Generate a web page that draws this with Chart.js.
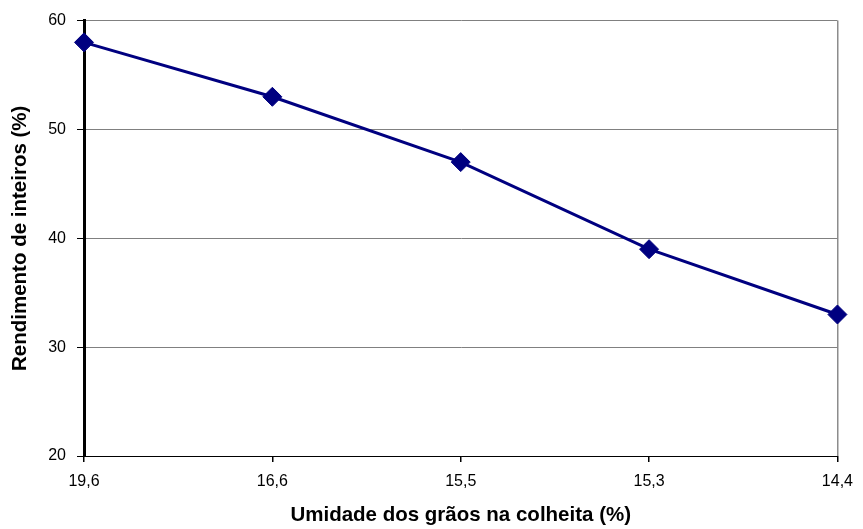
<!DOCTYPE html>
<html>
<head>
<meta charset="utf-8">
<script src="https://cdn.jsdelivr.net/npm/chart.js@4/dist/chart.umd.min.js"></script>
<style>
  html, body { margin: 0; padding: 0; background: #fff; }
  canvas { display: block; }
</style>
</head>
<body>
<canvas id="grafico" width="863" height="529"></canvas>
<script>
// Umidade na colheita x rendimento de grãos inteiros
const umidade = ['19,6', '16,6', '15,5', '15,3', '14,4'];
const rendimento = [58, 53, 47, 39, 33];
const escalaY = { min: 20, max: 60, passo: 10 };

const fonte = 'Arial, "Liberation Sans", sans-serif';

const chart = new Chart(document.getElementById('grafico'), {
    type: 'line',
    data: {
        labels: umidade,
        datasets: [{
            data: rendimento,
            borderColor: '#000080',
            backgroundColor: '#000080',
            borderWidth: 3,
            pointStyle: 'rectRot',
            pointRadius: 9.5,
            pointBorderWidth: 1,
            pointBackgroundColor: '#000080',
            pointBorderColor: '#000080',
            tension: 0,
            clip: false
        }]
    },
    options: {
        responsive: false,
        animation: false,
        layout: { padding: { top: 20, right: 22, bottom: 0, left: 0 } },
        plugins: {
            legend: { display: false },
            tooltip: { enabled: false }
        },
        scales: {
            x: {
                offset: false,
                grid: {
                    // só a borda direita da área do gráfico
                    color: (ctx) => ctx.index === umidade.length - 1 ? '#8c8c8c' : 'rgba(0,0,0,0)',
                    lineWidth: 1.5,
                    tickColor: '#000',
                    tickLength: 6
                },
                border: { color: '#000', width: 1 },
                ticks: {
                    color: '#000',
                    font: { family: fonte, size: 16 },
                    padding: 10,
                    maxRotation: 0
                },
                title: {
                    display: true,
                    text: 'Umidade dos grãos na colheita (%)',
                    color: '#000',
                    font: { family: fonte, size: 20.5, weight: 'bold' },
                    padding: { top: 0, bottom: 1 }
                },
                afterFit: (scale) => { scale.height = 73; }
            },
            y: {
                min: escalaY.min,
                max: escalaY.max,
                grid: {
                    color: (ctx) => ctx.tick && ctx.tick.value === escalaY.min ? '#000' : '#808080',
                    lineWidth: 1,
                    tickColor: '#000',
                    tickLength: 7
                },
                border: { color: '#000', width: 3 },
                ticks: {
                    stepSize: escalaY.passo,
                    color: '#000',
                    font: { family: fonte, size: 16 },
                    padding: 11
                },
                title: {
                    display: true,
                    text: 'Rendimento de inteiros (%)',
                    color: '#000',
                    font: { family: fonte, size: 20.5, weight: 'bold' },
                    padding: { top: 8, bottom: 4 }
                },
                afterFit: (scale) => { scale.width = 84; }
            }
        }
    }
});
</script>
</body>
</html>
